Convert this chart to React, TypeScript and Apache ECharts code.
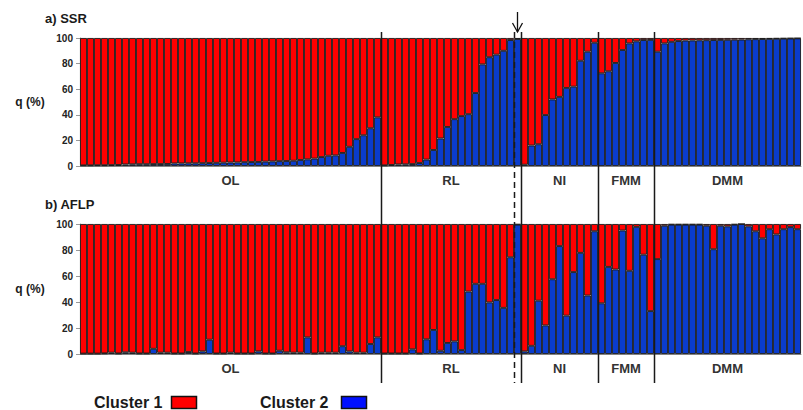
import React, { useEffect, useRef } from 'react';
import * as echarts from 'echarts';

// Groups (population types)
const groupNames = ['OL', 'RL', 'NI', 'FMM', 'DMM'];

// a) SSR — membership in cluster 2 (%) per individual
const ssrOL = [0.5, 0.5, 0.6, 0.6, 0.7, 0.8, 1.2, 1.3, 1.4, 1.4, 1.5, 1.5, 1.6, 2.0, 2.0, 2.1, 2.1, 2.2, 2.3, 2.5, 2.6, 2.7, 2.8, 3.0, 3.1, 3.2, 3.4, 3.6, 3.8, 3.9, 4.1, 4.7, 5.2, 5.8, 7.0, 8.0, 8.3, 10.2, 15, 21, 24, 29.5, 38];
const ssrRL = [0.5, 0.8, 1.2, 1.3, 1.5, 2.3, 5, 12.5, 21.5, 30.5, 36.6, 39, 40.5, 57, 79.4, 85, 87, 90, 98.4, 99.2];
const ssrNI = [1, 16, 17, 39.8, 52, 54, 61, 62, 82.2, 89.3, 96.3];
const ssrFMM = [72.4, 74, 80.5, 90.6, 95.8, 97.4, 98.4, 98.5];
const ssrDMM = [89.3, 95.8, 97, 97.6, 98, 98.1, 98.2, 98.3, 98.4, 98.5, 98.6, 98.7, 98.8, 99, 99.1, 99.2, 99.3, 99.4, 99.5, 99.6, 99.7];

// b) AFLP — membership in cluster 2 (%) per individual
const aflpOL = [0.3, 0.3, 0.3, 0.5, 1, 0.4, 1.3, 1, 0.4, 0.4, 4, 1, 1, 0.4, 0.4, 1.5, 0.4, 2, 11, 0.4, 0.4, 1, 0.4, 0.4, 0.4, 2, 0.4, 0.4, 2.5, 1.3, 1, 1, 12.8, 0.4, 1, 1, 1, 6, 2, 1, 1, 7.7, 12.8];
const aflpRL = [0.4, 0.4, 0.4, 0.4, 3.6, 0.4, 11.3, 18.5, 2.5, 8.5, 9.7, 3, 48, 54, 54, 39.7, 41.5, 35.5, 74.4, 99.5];
const aflpNI = [2, 6.3, 41, 22, 57.5, 83, 29.5, 63, 77.8, 45, 94.4];
const aflpFMM = [39, 67, 65, 95, 64, 97.8, 76.4, 33];
const aflpDMM = [73, 98.7, 99.5, 99.5, 99.5, 99.5, 99.5, 98.7, 80.6, 98.7, 98.2, 99.5, 100, 98.2, 94.4, 89, 96, 92, 96, 97.6, 96];

const yTicks = [0, 20, 40, 60, 80, 100];
const legendLabels = ['Cluster 1', 'Cluster 2'];

const ssrGroups = [ssrOL, ssrRL, ssrNI, ssrFMM, ssrDMM];
const aflpGroups = [aflpOL, aflpRL, aflpNI, aflpFMM, aflpDMM];

const RED = '#ff0000';
const BLUE = '#0a3ccc';
const FONT = '"Liberation Sans", Arial, sans-serif';

export default function App() {
  const ref = useRef<HTMLDivElement>(null);

  useEffect(() => {
    if (!ref.current) return;
    const chart = echarts.init(ref.current, undefined, { renderer: 'svg' });

    const ssr = ssrGroups.flat();
    const aflp = aflpGroups.flat();
    const n = ssr.length;
    const cats = ssr.map((_, i) => String(i + 1));

    const xAxisBase = {
      type: 'category' as const,
      data: cats,
      axisLabel: { show: false },
      axisTick: { show: false },
      axisLine: { show: true, lineStyle: { color: '#888', width: 1 } },
    };
    const yAxisBase = {
      type: 'value' as const,
      min: 0,
      max: 100,
      interval: 20,
      splitLine: { show: false },
      axisLine: { show: true, lineStyle: { color: '#999', width: 1 } },
      axisTick: { show: true, length: 4, lineStyle: { color: '#999' } },
      axisLabel: {
        fontFamily: FONT,
        fontWeight: 'bold' as const,
        fontSize: 10,
        color: '#222',
        margin: 7,
        formatter: (v: number) => (yTicks.includes(v) ? String(v) : ''),
      },
    };
    const barStyle = (color: string) => ({
      color,
      borderColor: '#1a1a1a',
      borderWidth: 0.9,
    });

    chart.setOption({
      animation: false,
      grid: [
        { left: 80, top: 38, width: 721, height: 128 },
        { left: 80, top: 224, width: 721, height: 130 },
      ],
      xAxis: [
        { ...xAxisBase, gridIndex: 0 },
        { ...xAxisBase, gridIndex: 1 },
      ],
      yAxis: [
        { ...yAxisBase, gridIndex: 0 },
        { ...yAxisBase, gridIndex: 1 },
      ],
      series: [
        {
          name: legendLabels[1], type: 'bar', stack: 'a', xAxisIndex: 0, yAxisIndex: 0,
          data: ssr, barCategoryGap: '0%', itemStyle: barStyle(BLUE),
        },
        {
          name: legendLabels[0], type: 'bar', stack: 'a', xAxisIndex: 0, yAxisIndex: 0,
          data: ssr.map((v) => +(100 - v).toFixed(2)), barCategoryGap: '0%', itemStyle: barStyle(RED),
        },
        {
          name: legendLabels[1] + ' ', type: 'bar', stack: 'b', xAxisIndex: 1, yAxisIndex: 1,
          data: aflp, barCategoryGap: '0%', itemStyle: barStyle(BLUE),
        },
        {
          name: legendLabels[0] + ' ', type: 'bar', stack: 'b', xAxisIndex: 1, yAxisIndex: 1,
          data: aflp.map((v) => +(100 - v).toFixed(2)), barCategoryGap: '0%', itemStyle: barStyle(RED),
        },
      ],
    });

    // Compute boundaries through the axis scale
    const cx = (i: number) => chart.convertToPixel({ xAxisIndex: 0 }, i) as number;
    const bw = cx(1) - cx(0);
    const edge = (i: number) => (i < n ? cx(i) - bw / 2 : cx(n - 1) + bw / 2);

    const starts: number[] = [];
    let acc = 0;
    ssrGroups.forEach((g) => { starts.push(acc); acc += g.length; });
    starts.push(acc);

    const graphics: any[] = [];
    const lineTop = 32;
    const lineBottom = 383;
    // solid separators
    for (let k = 1; k < groupNames.length; k++) {
      const x = Math.round(edge(starts[k])) + 0.5;
      graphics.push({
        type: 'line', z: 100,
        shape: { x1: x, y1: lineTop, x2: x, y2: lineBottom },
        style: { stroke: '#1a1a1a', lineWidth: 1.5 },
      });
    }
    // dashed separator before last RL individual
    const dashIdx = starts[2] - 1;
    const dx = Math.round(edge(dashIdx)) + 0.5;
    graphics.push({
      type: 'line', z: 100,
      shape: { x1: dx, y1: lineTop, x2: dx, y2: lineBottom },
      style: { stroke: '#1a1a1a', lineWidth: 1.5, lineDash: [6, 4] },
    });
    // arrow
    const ax = cx(dashIdx);
    graphics.push({
      type: 'line', z: 100,
      shape: { x1: ax, y1: 12, x2: ax, y2: 32 },
      style: { stroke: '#111', lineWidth: 1.3 },
    });
    graphics.push({
      type: 'polyline', z: 100,
      shape: { points: [[ax - 5, 23], [ax, 32], [ax + 5, 23]] },
      style: { stroke: '#111', lineWidth: 1.3, fill: 'none' },
    });
    // group labels
    const labelYs = [180, 368];
    labelYs.forEach((y) => {
      groupNames.forEach((name, k) => {
        const mid = (edge(starts[k]) + edge(starts[k + 1])) / 2;
        graphics.push({
          type: 'text', x: mid, y,
          style: {
            text: name, fill: '#333', font: `bold 13px ${FONT}`,
            align: 'center', verticalAlign: 'middle',
          },
        });
      });
    });
    // panel titles and y names
    graphics.push({
      type: 'text', x: 45, y: 18,
      style: { text: 'a) SSR', fill: '#1a1a1a', font: `bold 13px ${FONT}`, align: 'left', verticalAlign: 'middle' },
    });
    graphics.push({
      type: 'text', x: 45, y: 204,
      style: { text: 'b) AFLP', fill: '#1a1a1a', font: `bold 13px ${FONT}`, align: 'left', verticalAlign: 'middle' },
    });
    [102, 289].forEach((y) => {
      graphics.push({
        type: 'text', x: 30, y,
        style: { text: 'q (%)', fill: '#1a1a1a', font: `bold 12px ${FONT}`, align: 'center', verticalAlign: 'middle' },
      });
    });
    // legend
    const legendItems = [
      { label: legendLabels[0], tx: 94, bx: 171, color: RED },
      { label: legendLabels[1], tx: 260, bx: 341, color: '#0010ff' },
    ];
    legendItems.forEach((it) => {
      graphics.push({
        type: 'text', x: it.tx, y: 402,
        style: { text: it.label, fill: '#1a1a1a', font: `bold 16px ${FONT}`, align: 'left', verticalAlign: 'middle' },
      });
      graphics.push({
        type: 'rect',
        shape: { x: it.bx + 0.5, y: 396.5, width: 25, height: 12 },
        style: { fill: it.color, stroke: '#111', lineWidth: 1.5 },
      });
    });

    chart.setOption({ graphic: graphics });

    return () => chart.dispose();
  }, []);

  return <div ref={ref} style={{ width: 803, height: 410, position: 'absolute', left: 0, top: 0 }} />;
}
